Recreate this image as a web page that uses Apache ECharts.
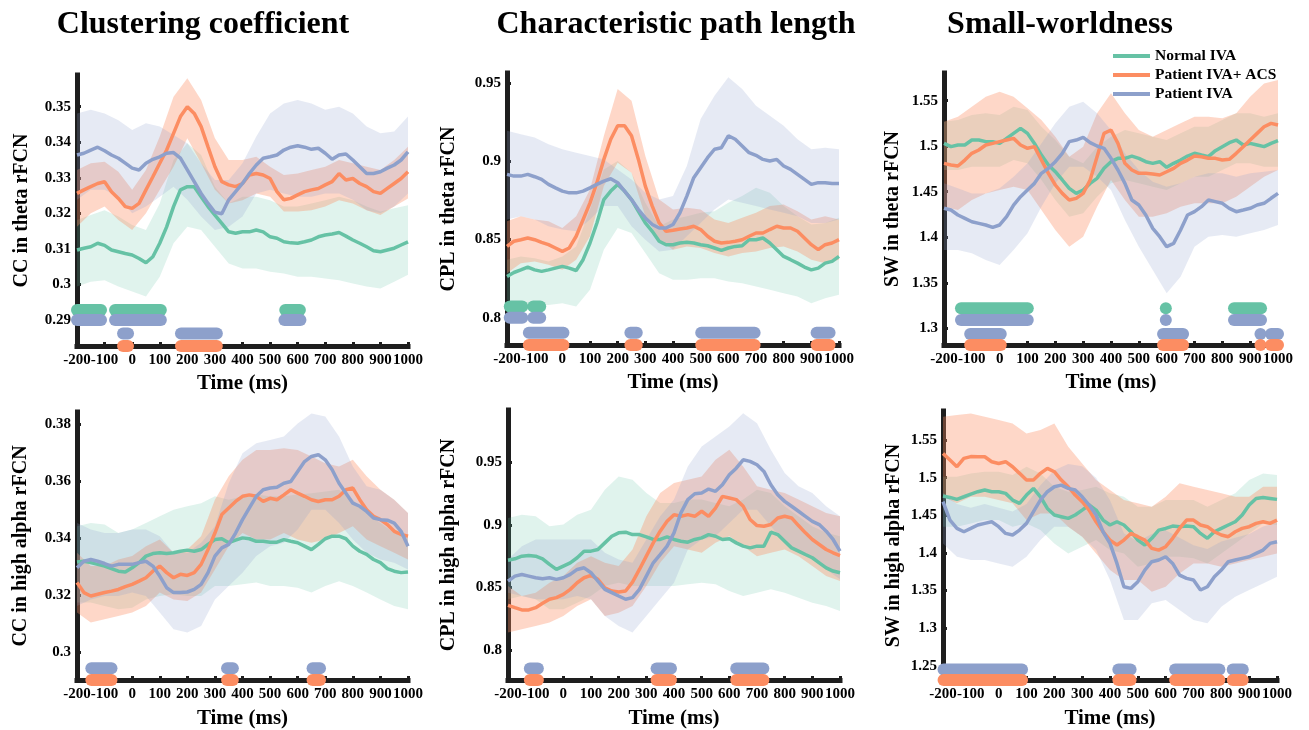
<!DOCTYPE html>
<html><head><meta charset="utf-8">
<script src="https://cdn.jsdelivr.net/npm/echarts@6/dist/echarts.min.js"></script>
<style>html,body{margin:0;padding:0;background:#fff}#c{width:1309px;height:730px}</style>
</head><body><div id="c"></div>
<script>
// ---------- DATA ----------
const time25 = [-200,-175,-150,-125,-100,-75,-50,-25,0,25,50,75,100,125,150,175,200,225,250,275,300,325,350,375,400,425,450,475,500,525,550,575,600,625,650,675,700,725,750,775,800,825,850,875,900,925,950,975,1000];
const time50 = [-200,-150,-100,-50,0,50,100,150,200,250,300,350,400,450,500,550,600,650,700,750,800,850,900,950,1000];
const timeTicks = [-200,-100,0,100,200,300,400,500,600,700,800,900,1000];
const groupNames = ['Normal IVA','Patient IVA+ ACS','Patient IVA'];
const panelTitles = ['Clustering coefficient','Characteristic path length','Small-worldness'];

// CC theta
const ccThetaNormal = [0.3097,0.3102,0.3106,0.3116,0.311,0.3097,0.3092,0.3087,0.3083,0.3073,0.3061,0.3078,0.3116,0.3162,0.3219,0.3266,0.3275,0.3275,0.3247,0.3219,0.3195,0.3172,0.3148,0.3144,0.3148,0.3148,0.3153,0.3148,0.3134,0.313,0.312,0.3117,0.3116,0.312,0.3125,0.3134,0.3139,0.3142,0.3146,0.3136,0.3125,0.3116,0.3106,0.3095,0.3092,0.3097,0.3102,0.3111,0.312];
const ccThetaACS = [0.3256,0.3266,0.3275,0.3284,0.3289,0.3261,0.3242,0.3219,0.3214,0.3228,0.3266,0.3303,0.3341,0.3378,0.3425,0.3472,0.35,0.3481,0.3444,0.3387,0.3331,0.3289,0.328,0.3275,0.3284,0.3308,0.3312,0.3308,0.3298,0.3261,0.3238,0.3242,0.3252,0.3261,0.3266,0.327,0.328,0.3289,0.3312,0.3294,0.3298,0.3284,0.3275,0.3261,0.3256,0.327,0.3284,0.3298,0.3317];
const ccThetaIVA = [0.3364,0.3369,0.3378,0.3386,0.3376,0.3364,0.3355,0.3341,0.3327,0.3322,0.3341,0.3352,0.3359,0.3369,0.3371,0.3355,0.3322,0.3289,0.3256,0.3228,0.3203,0.3199,0.3238,0.3261,0.3284,0.3312,0.3336,0.3355,0.3359,0.3364,0.3378,0.3386,0.339,0.3386,0.338,0.3383,0.3369,0.3352,0.3364,0.3367,0.335,0.3331,0.3312,0.3312,0.3317,0.3327,0.3336,0.335,0.3373];
const ccThetaNormalHi = [0.3181,0.3195,0.3209,0.3191,0.3167,0.3153,0.3228,0.335,0.3397,0.3364,0.3275,0.3228,0.3247,0.3247,0.3237,0.3219,0.3219,0.3228,0.3237,0.3247,0.3237,0.3219,0.3205,0.3214,0.3223];
const ccThetaNormalLo = [0.2994,0.3008,0.3012,0.2994,0.298,0.2966,0.3022,0.3116,0.3162,0.3153,0.3106,0.3059,0.3045,0.3045,0.3036,0.3031,0.3022,0.3022,0.3017,0.3012,0.3003,0.2994,0.2989,0.3008,0.3027];
const ccThetaACSHi = [0.3322,0.3341,0.3345,0.3317,0.3266,0.3322,0.3416,0.3528,0.358,0.3519,0.3411,0.335,0.335,0.3359,0.3331,0.3308,0.3312,0.3322,0.3331,0.335,0.3341,0.3331,0.3322,0.335,0.3387];
const ccThetaACSLo = [0.3162,0.32,0.3219,0.3181,0.3153,0.32,0.3266,0.3331,0.3411,0.3341,0.3266,0.3228,0.3237,0.3256,0.3247,0.3205,0.3205,0.3209,0.3219,0.3237,0.3228,0.3209,0.3195,0.3219,0.3242];
const ccThetaIVAHi = [0.3481,0.3491,0.3481,0.3462,0.3434,0.3453,0.3444,0.342,0.3397,0.3341,0.3294,0.3294,0.3341,0.3416,0.3481,0.3509,0.3519,0.3509,0.3491,0.35,0.3481,0.3444,0.3425,0.343,0.3472];
const ccThetaIVALo = [0.3238,0.3266,0.3266,0.3247,0.32,0.3219,0.3247,0.3275,0.3238,0.3191,0.3153,0.3162,0.3191,0.3256,0.3266,0.3256,0.3247,0.3247,0.3256,0.3256,0.3238,0.3209,0.32,0.3219,0.3256];
const ccThetaSigNormal = [[-200,-113],[-62,104],[555,608]];
const ccThetaSigIVA1 = [[-200,-113],[-62,104],[552,610]];
const ccThetaSigIVA2 = [[-33,-15],[177,307]];
const ccThetaSigACS = [[-33,-15],[177,307]];
const ccThetaTicks = [0.29,0.3,0.31,0.32,0.33,0.34,0.35];

// CPL theta
const cplThetaNormal = [0.8264,0.8289,0.8306,0.8324,0.8306,0.8296,0.8306,0.8317,0.8328,0.8317,0.8302,0.8371,0.8478,0.8606,0.8756,0.881,0.8853,0.881,0.8756,0.8681,0.8606,0.8553,0.8489,0.8467,0.8467,0.8478,0.8482,0.8478,0.8467,0.846,0.8446,0.8431,0.8446,0.8456,0.846,0.8499,0.8499,0.851,0.8478,0.8435,0.8392,0.8371,0.8349,0.8324,0.8306,0.8317,0.8349,0.836,0.8392];
const cplThetaACS = [0.8456,0.8489,0.8499,0.851,0.8499,0.8482,0.8467,0.8446,0.8424,0.8446,0.8521,0.8628,0.8735,0.8864,0.9013,0.9142,0.9228,0.9228,0.9164,0.9013,0.8842,0.8714,0.8606,0.8553,0.8559,0.8568,0.8574,0.8585,0.8564,0.8521,0.8489,0.8478,0.8482,0.8489,0.8499,0.8521,0.8542,0.8542,0.8564,0.8585,0.8574,0.8574,0.8553,0.851,0.8467,0.8435,0.8467,0.8478,0.8499];
const cplThetaIVA = [0.8917,0.8906,0.8906,0.8917,0.8902,0.8885,0.8853,0.8831,0.881,0.8799,0.8799,0.881,0.8831,0.8853,0.8874,0.8889,0.8864,0.881,0.8756,0.8692,0.8638,0.8596,0.8574,0.8574,0.8596,0.8671,0.8778,0.8896,0.896,0.9024,0.9078,0.9088,0.9164,0.9142,0.9099,0.9056,0.9039,0.9013,0.9003,0.9013,0.8971,0.8949,0.8917,0.8885,0.8853,0.8864,0.8864,0.8859,0.8859];
const cplThetaNormalHi = [0.8371,0.8392,0.8381,0.836,0.8392,0.8456,0.8692,0.8949,0.9003,0.8928,0.8735,0.8585,0.8628,0.8649,0.8671,0.8681,0.8735,0.8778,0.8831,0.8799,0.8714,0.8649,0.8596,0.8606,0.8639];
const cplThetaNormalLo = [0.8114,0.8092,0.8081,0.8081,0.8092,0.8071,0.8178,0.8435,0.8574,0.8542,0.8414,0.8285,0.8242,0.8242,0.8253,0.8253,0.8231,0.8221,0.8199,0.8178,0.8156,0.8135,0.8092,0.8124,0.8146];
const cplThetaACSHi = [0.8617,0.8649,0.8628,0.8617,0.8574,0.8649,0.8821,0.9163,0.9463,0.9388,0.9035,0.8756,0.8692,0.8703,0.8692,0.8628,0.8606,0.8639,0.8671,0.8714,0.8724,0.8681,0.8628,0.8649,0.8628];
const cplThetaACSLo = [0.8285,0.8349,0.836,0.8339,0.8306,0.8371,0.8521,0.8842,0.8992,0.8928,0.8649,0.8499,0.8435,0.8456,0.8446,0.8414,0.8392,0.8414,0.8424,0.8446,0.8456,0.8424,0.8371,0.8349,0.8371];
const cplThetaIVAHi = [0.9196,0.9174,0.9153,0.911,0.9078,0.9056,0.9035,0.9013,0.8949,0.8885,0.8799,0.8756,0.8778,0.8971,0.9271,0.9421,0.9538,0.9463,0.9356,0.9292,0.9228,0.9142,0.9078,0.9088,0.9078];
const cplThetaIVALo = [0.8628,0.8649,0.8628,0.8585,0.8564,0.8553,0.8628,0.8714,0.8714,0.8585,0.8499,0.8424,0.8435,0.8521,0.8606,0.8692,0.8756,0.8735,0.8714,0.8692,0.8671,0.8649,0.8606,0.8606,0.8628];
const cplThetaSigNormal = [[-190,-145],[-105,-80]];
const cplThetaSigIVA1 = [[-190,-145],[-105,-80]];
const cplThetaSigIVA2 = [[-121,4],[246,269],[502,695],[919,966]];
const cplThetaSigACS = [[-121,4],[246,269],[502,695],[919,966]];
const cplThetaTicks = [0.8,0.85,0.9,0.95];

// SW theta
const swThetaNormal = [1.5031,1.4995,1.5013,1.5013,1.5068,1.5068,1.505,1.505,1.5031,1.5086,1.5141,1.5196,1.5141,1.5031,1.4903,1.4794,1.472,1.4629,1.4537,1.4482,1.4519,1.4592,1.4647,1.4757,1.483,1.4867,1.4867,1.4892,1.4867,1.483,1.4812,1.483,1.4768,1.4812,1.4848,1.4892,1.4922,1.4903,1.4885,1.4951,1.4995,1.5039,1.5068,1.5013,1.5031,1.5013,1.4995,1.5031,1.5061];
const swThetaACS = [1.4812,1.4794,1.4783,1.4848,1.4922,1.4958,1.5013,1.5031,1.505,1.5068,1.5086,1.5013,1.4977,1.4995,1.4848,1.4702,1.4574,1.4482,1.4409,1.4427,1.4482,1.4629,1.4885,1.5141,1.5178,1.5031,1.4812,1.4739,1.4702,1.4702,1.4695,1.4684,1.472,1.4757,1.4812,1.4848,1.4892,1.4885,1.4867,1.4867,1.4848,1.4856,1.4922,1.4995,1.5068,1.5141,1.5214,1.5251,1.5233];
const swThetaIVA = [1.4318,1.4299,1.4245,1.4208,1.4171,1.4153,1.4135,1.4109,1.4135,1.4226,1.4354,1.4446,1.4519,1.4592,1.4702,1.4757,1.483,1.4922,1.505,1.5068,1.5097,1.5039,1.5002,1.4977,1.4867,1.4739,1.4592,1.4409,1.4354,1.4245,1.4098,1.4007,1.3897,1.3933,1.408,1.4245,1.4281,1.4336,1.4409,1.4391,1.4373,1.4318,1.4281,1.4299,1.4318,1.4354,1.4373,1.4428,1.4482];
const swThetaNormalHi = [1.5269,1.5288,1.5343,1.5361,1.5343,1.5434,1.5397,1.5214,1.5068,1.4885,1.4812,1.4995,1.5105,1.5178,1.5141,1.5105,1.5068,1.5141,1.5214,1.5214,1.5288,1.5361,1.5361,1.5324,1.5361];
const swThetaNormalLo = [1.4739,1.4739,1.4775,1.4775,1.4775,1.4848,1.4812,1.4629,1.4409,1.4226,1.4263,1.4446,1.4592,1.4629,1.4592,1.4556,1.4519,1.4592,1.4665,1.4665,1.4739,1.4812,1.4812,1.4775,1.4775];
const swThetaACSHi = [1.5269,1.5324,1.5434,1.5544,1.5599,1.5544,1.5416,1.5288,1.5105,1.4885,1.4995,1.5361,1.5581,1.5361,1.5178,1.5105,1.5178,1.5251,1.5324,1.5324,1.5306,1.5361,1.5544,1.569,1.5727];
const swThetaACSLo = [1.4336,1.4299,1.4409,1.4482,1.4519,1.4556,1.4519,1.4299,1.408,1.3897,1.4007,1.4336,1.4629,1.4409,1.4226,1.4226,1.4263,1.4336,1.4373,1.4373,1.4373,1.4446,1.4556,1.4665,1.4739];
const swThetaIVAHi = [1.4592,1.4537,1.4482,1.4482,1.4537,1.4665,1.4812,1.5031,1.5251,1.5434,1.5489,1.5361,1.5178,1.4922,1.4739,1.4611,1.4556,1.4592,1.4665,1.4702,1.4702,1.4665,1.4702,1.472,1.4739];
const swThetaIVALo = [1.386,1.386,1.3824,1.3751,1.3695,1.386,1.4043,1.4336,1.4592,1.4775,1.4775,1.4665,1.4519,1.419,1.3897,1.3641,1.3384,1.3567,1.3897,1.4007,1.4025,1.4007,1.4043,1.408,1.4135];
const swThetaSigNormal = [[-139,101],[597,597],[842,939]];
const swThetaSigIVA1 = [[-139,101],[597,597],[842,939]];
const swThetaSigIVA2 = [[-106,4],[587,659],[937,937],[975,1000]];
const swThetaSigACS = [[-106,4],[587,659],[937,937],[975,1000]];
const swThetaTicks = [1.3,1.35,1.4,1.45,1.5,1.55];

// CC high alpha
const ccAlphaNormal = [0.3315,0.3318,0.3313,0.3307,0.3301,0.3292,0.3283,0.328,0.3295,0.3313,0.3336,0.3345,0.3348,0.3345,0.3348,0.3353,0.3357,0.3353,0.3359,0.3377,0.3394,0.3397,0.3383,0.3392,0.34,0.3397,0.3388,0.3388,0.3385,0.3385,0.3394,0.3388,0.3383,0.3371,0.3359,0.3377,0.3397,0.3406,0.3406,0.3397,0.3371,0.3353,0.3342,0.3324,0.3313,0.3292,0.3283,0.3278,0.328];
const ccAlphaACS = [0.3243,0.3208,0.3196,0.3202,0.3208,0.3213,0.3219,0.3229,0.3237,0.3248,0.326,0.3283,0.3301,0.3278,0.326,0.3272,0.3268,0.3278,0.3307,0.3359,0.3417,0.3482,0.3505,0.3528,0.3546,0.3551,0.3546,0.3528,0.3539,0.3534,0.3551,0.3569,0.3557,0.3546,0.3534,0.3528,0.3534,0.3534,0.3546,0.3569,0.3575,0.3534,0.3499,0.3476,0.3464,0.3447,0.3423,0.3412,0.3406];
const ccAlphaIVA = [0.3295,0.3318,0.3324,0.3318,0.331,0.3301,0.3307,0.3307,0.3307,0.3313,0.3318,0.3301,0.3266,0.3225,0.3208,0.3208,0.321,0.3219,0.3237,0.3278,0.3336,0.3365,0.3377,0.3417,0.3464,0.3505,0.3546,0.3569,0.3575,0.3578,0.3592,0.3598,0.3633,0.3668,0.3686,0.3692,0.3674,0.3639,0.3592,0.3557,0.3522,0.3511,0.3493,0.347,0.3464,0.3462,0.3452,0.3423,0.3371];
const ccAlphaNormalHi = [0.3441,0.3452,0.3447,0.3417,0.3429,0.3452,0.3476,0.3499,0.3511,0.3522,0.3546,0.3534,0.3546,0.3552,0.3546,0.3546,0.3552,0.3557,0.3563,0.3569,0.3534,0.3487,0.3452,0.3417,0.3406];
const ccAlphaNormalLo = [0.3173,0.3173,0.3161,0.3149,0.3155,0.3184,0.3196,0.3202,0.3196,0.3196,0.3231,0.3231,0.3237,0.3243,0.3231,0.3231,0.3225,0.3208,0.3231,0.3248,0.3231,0.3208,0.3184,0.3161,0.3149];
const ccAlphaACSHi = [0.3348,0.3301,0.3301,0.3324,0.3336,0.3371,0.3394,0.3348,0.3359,0.3406,0.3534,0.3616,0.3674,0.3709,0.3709,0.3715,0.3709,0.3686,0.3662,0.3651,0.3674,0.3616,0.3569,0.3534,0.3487];
const ccAlphaACSLo = [0.3138,0.3103,0.3114,0.3126,0.3138,0.3161,0.3208,0.3184,0.3178,0.3208,0.3289,0.3371,0.3417,0.3394,0.3394,0.3417,0.3394,0.3383,0.3394,0.3417,0.3441,0.3394,0.3371,0.3348,0.3324];
const ccAlphaIVAHi = [0.3452,0.3429,0.3417,0.3417,0.3429,0.3429,0.3406,0.3348,0.3348,0.3383,0.3441,0.3592,0.3697,0.3732,0.3744,0.3756,0.3802,0.3837,0.3826,0.3756,0.3651,0.3581,0.3569,0.3534,0.3487];
const ccAlphaIVALo = [0.3161,0.3184,0.3196,0.3196,0.3208,0.3196,0.3138,0.3079,0.3068,0.3091,0.3184,0.3231,0.3278,0.3336,0.3371,0.3383,0.3429,0.3499,0.3499,0.3452,0.3394,0.3348,0.3324,0.3313,0.3289];
const ccAlphaSigIVA = [[-148,-75],[344,365],[654,681]];
const ccAlphaSigACS = [[-148,-75],[344,365],[654,681]];
const ccAlphaTicks = [0.3,0.32,0.34,0.36,0.38];

// CPL high alpha
const cplAlphaNormal = [0.8718,0.8729,0.875,0.8755,0.875,0.8729,0.8684,0.8644,0.8671,0.8697,0.8737,0.879,0.879,0.8803,0.8856,0.8909,0.8936,0.8941,0.8922,0.8922,0.8904,0.8883,0.8883,0.8904,0.8883,0.8869,0.8861,0.8883,0.8896,0.8922,0.8909,0.8883,0.8888,0.8856,0.883,0.8816,0.883,0.883,0.8941,0.8922,0.8869,0.8816,0.879,0.8763,0.8737,0.8697,0.8657,0.8631,0.8618];
const cplAlphaACS = [0.8358,0.8339,0.8321,0.8321,0.8339,0.8374,0.8406,0.8419,0.8445,0.8485,0.8538,0.8578,0.8596,0.8565,0.8498,0.8472,0.8464,0.8472,0.8543,0.8644,0.875,0.8856,0.8949,0.9028,0.9081,0.9068,0.9081,0.9068,0.9108,0.9068,0.9134,0.9227,0.9214,0.9201,0.9148,0.9042,0.8994,0.8989,0.9002,0.9055,0.9068,0.9055,0.8994,0.8936,0.8883,0.8843,0.8803,0.8777,0.8755];
const cplAlphaIVA = [0.8551,0.8591,0.8604,0.8591,0.8578,0.857,0.8578,0.8565,0.8578,0.8604,0.8644,0.8657,0.8618,0.8551,0.8485,0.8459,0.8432,0.8406,0.8419,0.8485,0.8591,0.8697,0.8763,0.883,0.8936,0.9095,0.9201,0.9248,0.9254,0.9285,0.9267,0.932,0.9399,0.9452,0.9519,0.9506,0.9479,0.9426,0.932,0.924,0.9187,0.9148,0.9108,0.9068,0.9028,0.9002,0.8949,0.8883,0.879];
const cplAlphaNormalHi = [0.9055,0.9081,0.9068,0.8989,0.9002,0.9081,0.9121,0.928,0.9386,0.936,0.9254,0.9174,0.9174,0.9201,0.9201,0.9174,0.9148,0.9201,0.928,0.9254,0.9148,0.9068,0.8989,0.8936,0.8909];
const cplAlphaNormalLo = [0.8406,0.8432,0.8406,0.8326,0.8326,0.8379,0.8432,0.8512,0.8538,0.8512,0.8512,0.8512,0.8512,0.8525,0.8538,0.8525,0.8472,0.8432,0.8459,0.8485,0.8459,0.8419,0.8379,0.8352,0.8313];
const cplAlphaACSHi = [0.8512,0.8432,0.8459,0.8538,0.8591,0.8697,0.875,0.8697,0.8671,0.8803,0.9068,0.9254,0.9333,0.936,0.9386,0.9519,0.9598,0.9466,0.9307,0.928,0.9254,0.9201,0.9148,0.9095,0.9068];
const cplAlphaACSLo = [0.814,0.8167,0.8193,0.822,0.8273,0.8353,0.8406,0.8273,0.8299,0.8353,0.8512,0.8697,0.883,0.8803,0.8777,0.8856,0.8909,0.883,0.875,0.8777,0.8803,0.875,0.8671,0.8591,0.8551];
const cplAlphaIVAHi = [0.8724,0.883,0.8883,0.8883,0.8883,0.8883,0.8883,0.8777,0.8724,0.8697,0.8883,0.9068,0.9201,0.9466,0.9625,0.9704,0.9784,0.989,0.981,0.9598,0.9413,0.9307,0.9254,0.9148,0.9068];
const cplAlphaIVALo = [0.8459,0.8432,0.8406,0.8406,0.8406,0.8432,0.8406,0.8273,0.8193,0.814,0.8273,0.8406,0.8538,0.8803,0.8883,0.8909,0.9015,0.9121,0.9121,0.8989,0.8856,0.8777,0.8724,0.8644,0.8565];
const cplAlphaSigIVA = [[-121,-92],[337,389],[625,723]];
const cplAlphaSigACS = [[-121,-92],[337,389],[625,723]];
const cplAlphaTicks = [0.8,0.85,0.9,0.95];

// SW high alpha
const swAlphaNormal = [1.4755,1.4737,1.4711,1.4746,1.4782,1.4813,1.4835,1.4813,1.4813,1.4791,1.4702,1.4658,1.4768,1.4857,1.4746,1.4591,1.4503,1.4481,1.4458,1.4503,1.4569,1.4636,1.4569,1.4436,1.437,1.4414,1.437,1.4281,1.417,1.4104,1.4193,1.4303,1.4325,1.4356,1.4348,1.4356,1.4348,1.4259,1.4193,1.4281,1.4325,1.437,1.4414,1.4503,1.4636,1.4724,1.4737,1.4724,1.4711];
const swAlphaACS = [1.5322,1.5234,1.5145,1.5256,1.528,1.5278,1.5278,1.5212,1.5189,1.5212,1.5145,1.5057,1.4968,1.4968,1.5057,1.5123,1.5079,1.4968,1.4879,1.4768,1.468,1.4569,1.4414,1.4281,1.417,1.4104,1.417,1.4259,1.4215,1.417,1.406,1.4037,1.4082,1.4193,1.4325,1.4436,1.4436,1.437,1.4348,1.4281,1.4237,1.4215,1.4281,1.4325,1.4348,1.4392,1.4414,1.4392,1.4436];
const swAlphaIVA = [1.468,1.4436,1.4325,1.4281,1.4325,1.437,1.4392,1.4414,1.4348,1.4259,1.4237,1.4303,1.4392,1.4547,1.4702,1.4813,1.4879,1.4901,1.4857,1.4835,1.4746,1.4636,1.4503,1.4281,1.4126,1.386,1.355,1.3528,1.3617,1.3772,1.3882,1.3905,1.3949,1.386,1.3705,1.3661,1.3639,1.3506,1.355,1.3683,1.3772,1.3882,1.3905,1.3927,1.3949,1.3993,1.4037,1.4126,1.4148];
const swAlphaNormalHi = [1.5012,1.5012,1.5056,1.5079,1.5079,1.5034,1.5145,1.5056,1.4879,1.4813,1.4835,1.4879,1.4791,1.4746,1.4613,1.4613,1.4702,1.4702,1.4702,1.4613,1.4702,1.4791,1.4968,1.5056,1.5034];
const swAlphaNormalLo = [1.4348,1.4348,1.4392,1.4436,1.4436,1.4348,1.4392,1.4303,1.4126,1.3993,1.4082,1.417,1.4037,1.3993,1.3816,1.386,1.3949,1.3949,1.3927,1.386,1.3993,1.4126,1.4259,1.4392,1.437];
const swAlphaACSHi = [1.581,1.5832,1.5854,1.581,1.5765,1.5721,1.5588,1.5632,1.5721,1.5411,1.5189,1.4968,1.4835,1.4702,1.4658,1.4613,1.4746,1.4924,1.4879,1.4835,1.4791,1.4746,1.4746,1.4879,1.4879];
const swAlphaACSLo = [1.4746,1.4658,1.4746,1.4746,1.4702,1.4658,1.4436,1.4525,1.4525,1.4348,1.4215,1.3993,1.3772,1.3639,1.3639,1.3484,1.355,1.3727,1.386,1.386,1.3816,1.386,1.3905,1.3949,1.3993];
const swAlphaIVAHi = [1.48,1.465,1.46,1.465,1.46,1.455,1.465,1.49,1.51,1.518,1.515,1.5,1.47,1.426,1.415,1.425,1.43,1.42,1.41,1.405,1.415,1.42,1.425,1.435,1.44];
const swAlphaIVALo = [1.4126,1.3949,1.3905,1.3905,1.386,1.3816,1.3949,1.417,1.4348,1.4348,1.4215,1.4037,1.3639,1.3107,1.3107,1.3329,1.3373,1.324,1.3107,1.3063,1.3284,1.3417,1.3506,1.3594,1.3683];
const swAlphaSigIVA = [[-198,84],[430,474],[634,793],[841,877]];
const swAlphaSigACS = [[-198,84],[430,474],[634,793],[841,877]];
const swAlphaTicks = [1.25,1.3,1.35,1.4,1.45,1.5,1.55];

// ---------- STYLE / LAYOUT ----------
const COLORS = ['#66c2a5','#fc8d62','#8da0cb'];
const BAND_FILL = ['rgba(102,194,165,0.2)','rgba(252,141,98,0.35)','rgba(141,160,203,0.22)'];
const FONT = "'Times New Roman','Liberation Serif',serif";
const AX = '#1e1e1e';

const panels = [
  {box:[77,75,331,271], yMin:0.2827, yMax:0.3589, ticks:ccThetaTicks, yName:'CC in theta rFCN', nameGap:45, xGap:27,
   means:[ccThetaNormal,ccThetaACS,ccThetaIVA],
   bands:[[ccThetaNormalHi,ccThetaNormalLo],[ccThetaACSHi,ccThetaACSLo],[ccThetaIVAHi,ccThetaIVALo]],
   sig:[[ccThetaSigNormal,0,0.2928],[ccThetaSigIVA1,2,0.29],[ccThetaSigIVA2,2,0.2862],[ccThetaSigACS,1,0.2827]]},
  {box:[507,73,332,272], yMin:0.7825, yMax:0.9566, ticks:cplThetaTicks, yName:'CPL in theta rFCN', nameGap:48, xGap:27,
   means:[cplThetaNormal,cplThetaACS,cplThetaIVA],
   bands:[[cplThetaNormalHi,cplThetaNormalLo],[cplThetaACSHi,cplThetaACSLo],[cplThetaIVAHi,cplThetaIVALo]],
   sig:[[cplThetaSigNormal,0,0.8071],[cplThetaSigIVA1,2,0.8],[cplThetaSigIVA2,2,0.7904],[cplThetaSigACS,1,0.7825]]},
  {box:[944,73,334,272], yMin:1.2817, yMax:1.5804, ticks:swThetaTicks, yName:'SW in theta rFCN', nameGap:41, xGap:27,
   means:[swThetaNormal,swThetaACS,swThetaIVA],
   bands:[[swThetaNormalHi,swThetaNormalLo],[swThetaACSHi,swThetaACSLo],[swThetaIVAHi,swThetaIVALo]],
   sig:[[swThetaSigNormal,0,1.322],[swThetaSigIVA1,2,1.3092],[swThetaSigIVA2,2,1.2938],[swThetaSigACS,1,1.2817]]},
  {box:[77,412,331,269], yMin:0.2901, yMax:0.3842, ticks:ccAlphaTicks, yName:'CC in high alpha rFCN', nameGap:46, xGap:28,
   means:[ccAlphaNormal,ccAlphaACS,ccAlphaIVA],
   bands:[[ccAlphaNormalHi,ccAlphaNormalLo],[ccAlphaACSHi,ccAlphaACSLo],[ccAlphaIVAHi,ccAlphaIVALo]],
   sig:[[ccAlphaSigIVA,2,0.2942],[ccAlphaSigACS,1,0.2901]]},
  {box:[508,410,332,271], yMin:0.7762, yMax:0.9916, ticks:cplAlphaTicks, yName:'CPL in high alpha rFCN', nameGap:49, xGap:28,
   means:[cplAlphaNormal,cplAlphaACS,cplAlphaIVA],
   bands:[[cplAlphaNormalHi,cplAlphaNormalLo],[cplAlphaACSHi,cplAlphaACSLo],[cplAlphaIVAHi,cplAlphaIVALo]],
   sig:[[cplAlphaSigIVA,2,0.7854],[cplAlphaSigACS,1,0.7762]]},
  {box:[943,411,334,269], yMin:1.231, yMax:1.5886, ticks:swAlphaTicks, yName:'SW in high alpha rFCN', nameGap:39, xGap:28,
   means:[swAlphaNormal,swAlphaACS,swAlphaIVA],
   bands:[[swAlphaNormalHi,swAlphaNormalLo],[swAlphaACSHi,swAlphaACSLo],[swAlphaIVAHi,swAlphaIVALo]],
   sig:[[swAlphaSigIVA,2,1.2451],[swAlphaSigACS,1,1.231]]}
];

const labelFont = {fontFamily:FONT, fontWeight:'bold', fontSize:15, color:'#000'};
const option = {
  animation:false,
  backgroundColor:'#fff',
  title: [
    {text:panelTitles[0], left:198, top:4, textAlign:'center'},
    {text:panelTitles[1], left:671, top:4, textAlign:'center'},
    {text:panelTitles[2], left:1055, top:4, textAlign:'center'}
  ].map(t => Object.assign(t, {textStyle:{fontFamily:FONT, fontWeight:'bold', fontSize:32, color:'#000'}})),
  legend: {
    data: groupNames, orient:'vertical', left:1108, top:43, itemWidth:37, itemHeight:4, itemGap:3,
    icon:'rect', selectedMode:false, textStyle:{fontFamily:FONT, fontWeight:'bold', fontSize:15.5, color:'#000'}
  },
  grid:[], xAxis:[], yAxis:[], series:[]
};

panels.forEach((p,k) => {
  option.grid.push({left:p.box[0], top:p.box[1], width:p.box[2], height:p.box[3]});
  option.xAxis.push({
    type:'value', gridIndex:k, min:-200, max:1000, interval:100,
    name:'Time (ms)', nameLocation:'middle', nameGap:p.xGap,
    nameTextStyle:{fontFamily:FONT, fontWeight:'bold', fontSize:21, color:'#000'},
    axisLine:{onZero:false, lineStyle:{color:AX, width:5, cap:'square'}},
    axisTick:{inside:true, length:4, customValues:timeTicks, lineStyle:{color:AX, width:3}},
    axisLabel:Object.assign({margin:7, customValues:timeTicks, formatter:v => String(v)}, labelFont),
    splitLine:{show:false}
  });
  option.yAxis.push({
    type:'value', gridIndex:k, min:p.yMin, max:p.yMax,
    name:p.yName, nameLocation:'middle', nameGap:p.nameGap, nameRotate:90,
    nameTextStyle:{fontFamily:FONT, fontWeight:'bold', fontSize:20, color:'#000'},
    axisLine:{onZero:false, lineStyle:{color:AX, width:5, cap:'square'}},
    axisTick:{inside:true, length:4, customValues:p.ticks, lineStyle:{color:AX, width:3}},
    axisLabel:Object.assign({margin:6, customValues:p.ticks}, labelFont),
    splitLine:{show:false}
  });
  // bands
  p.bands.forEach((b,j) => {
    const hi = b[0], lo = b[1];
    option.series.push({
      type:'custom', xAxisIndex:k, yAxisIndex:k, silent:true, z:1,
      data:[[time50[0], lo[0]]],
      renderItem:(params, api) => {
        const pts = [];
        for (let i=0;i<time50.length;i++) pts.push(api.coord([time50[i], hi[i]]));
        for (let i=time50.length-1;i>=0;i--) pts.push(api.coord([time50[i], lo[i]]));
        return {type:'polygon', shape:{points:pts}, style:{fill:BAND_FILL[j]}};
      }
    });
  });
  // mean lines
  p.means.forEach((m,j) => {
    option.series.push({
      type:'line', name:groupNames[j], xAxisIndex:k, yAxisIndex:k, z:3,
      data:time25.map((t,i)=>[t, m[i]]), showSymbol:false, symbol:'none',
      lineStyle:{width:3.5, color:COLORS[j]}, itemStyle:{color:COLORS[j]}
    });
  });
  // significance markers
  p.sig.forEach(([segs, ci, yv]) => {
    option.series.push({
      type:'custom', xAxisIndex:k, yAxisIndex:k, silent:true, z:5, clip:false,
      data:segs.map(s => [s[0], s[1], yv]), encode:{x:[0,1], y:2},
      renderItem:(params, api) => {
        const a = api.coord([api.value(0), api.value(2)]);
        const b = api.coord([api.value(1), api.value(2)]);
        const r = 6;
        return {type:'rect', shape:{x:a[0]-r, y:a[1]-r, width:b[0]-a[0]+2*r, height:2*r, r:r}, style:{fill:COLORS[ci]}};
      }
    });
  });
});

const chart = echarts.init(document.getElementById('c'), null, {renderer:'canvas'});
chart.setOption(option);
</script>
</body></html>
